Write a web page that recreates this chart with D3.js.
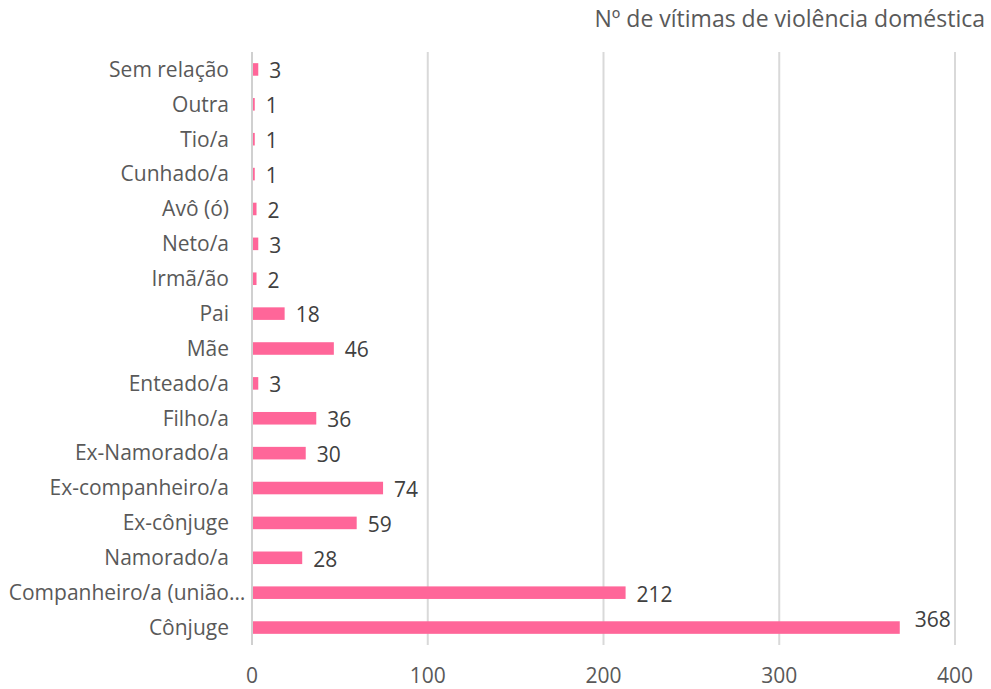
<!DOCTYPE html>
<html>
<head>
<meta charset="utf-8">
<script src="https://cdn.jsdelivr.net/npm/d3@7"></script>
<style>
  body { margin: 0; background: #fff; }
  text { font-family: "Open Sans", sans-serif; fill: #595959; }
</style>
</head>
<body>
<script>
var width = 991,
    height = 689;

// categories top to bottom
var categories = ["Sem relação", "Outra", "Tio/a", "Cunhado/a", "Avô (ó)", "Neto/a", "Irmã/ão",
  "Pai", "Mãe", "Enteado/a", "Filho/a", "Ex-Namorado/a", "Ex-companheiro/a", "Ex-cônjuge",
  "Namorado/a", "Companheiro/a (união…", "Cônjuge"];
var values = [3, 1, 1, 1, 2, 3, 2, 18, 46, 3, 36, 30, 74, 59, 28, 212, 368];
var xTicks = [0, 100, 200, 300, 400];
var title = "Nº de vítimas de violência doméstica";

var margin = {top: 52, right: 36, bottom: 44, left: 252};

var x = d3.scaleLinear()
    .domain([0, 400])
    .range([margin.left, width - margin.right]);

var y = d3.scaleBand()
    .domain(categories)
    .range([margin.top, height - margin.bottom])
    .paddingInner(0.64)
    .paddingOuter(0.32);

var svg = d3.select("body")
  .append("svg")
  .attr("width", width)
  .attr("height", height);

// title
svg.append("text")
  .attr("x", 985)
  .attr("y", 27)
  .attr("text-anchor", "end")
  .style("font-size", "23px")
  .text(title);

// gridlines
svg.selectAll(".grid")
  .data(xTicks)
  .enter()
  .append("line")
  .attr("class", "grid")
  .attr("x1", function(d) { return x(d); })
  .attr("x2", function(d) { return x(d); })
  .attr("y1", margin.top)
  .attr("y2", height - margin.bottom)
  .attr("stroke", function(d) { return d === 0 ? "#d0d0d0" : "#d9d9d9"; })
  .attr("stroke-width", 2);

// x axis labels
svg.selectAll(".xlab")
  .data(xTicks)
  .enter()
  .append("text")
  .attr("class", "xlab")
  .attr("x", function(d) { return x(d); })
  .attr("y", 683)
  .attr("text-anchor", "middle")
  .style("font-size", "21px")
  .text(function(d) { return d; });

// category labels (a trailing ellipsis hangs past the right edge, like Excel does)
svg.selectAll(".ylab")
  .data(categories)
  .enter()
  .append("text")
  .attr("class", "ylab")
  .attr("x", 229)
  .attr("y", function(d) { return y(d) + y.bandwidth() / 2; })
  .attr("dy", "0.35em")
  .attr("text-anchor", "end")
  .style("font-size", "21px")
  .text(function(d) { return d; })
  .each(function(d) {
    if (d.slice(-1) === "…") {
      var full = this.getComputedTextLength();
      var t = d3.select(this).text(d.slice(0, -1));
      var shift = full - this.getComputedTextLength();
      t.text(d).attr("x", 229 + shift);
    }
  });

// bars
svg.selectAll(".bar")
  .data(values)
  .enter()
  .append("rect")
  .attr("class", "bar")
  .attr("x", x(0) + 1)
  .attr("y", function(d, i) { return y(categories[i]); })
  .attr("width", function(d) { return x(d) - x(0); })
  .attr("height", y.bandwidth())
  .attr("fill", "#ff6699");

// value labels
svg.selectAll(".val")
  .data(values)
  .enter()
  .append("text")
  .attr("class", "val")
  .attr("x", function(d) { return d > 350 ? x(d) + 16 : x(d) + 12; })
  .attr("y", function(d, i) {
    var c = y(categories[i]) + y.bandwidth() / 2;
    return d > 350 ? c - 8 : c + 1.5;
  })
  .attr("dy", "0.35em")
  .style("font-size", "21px")
  .style("fill", "#404040")
  .text(function(d) { return d; });
</script>
</body>
</html>
